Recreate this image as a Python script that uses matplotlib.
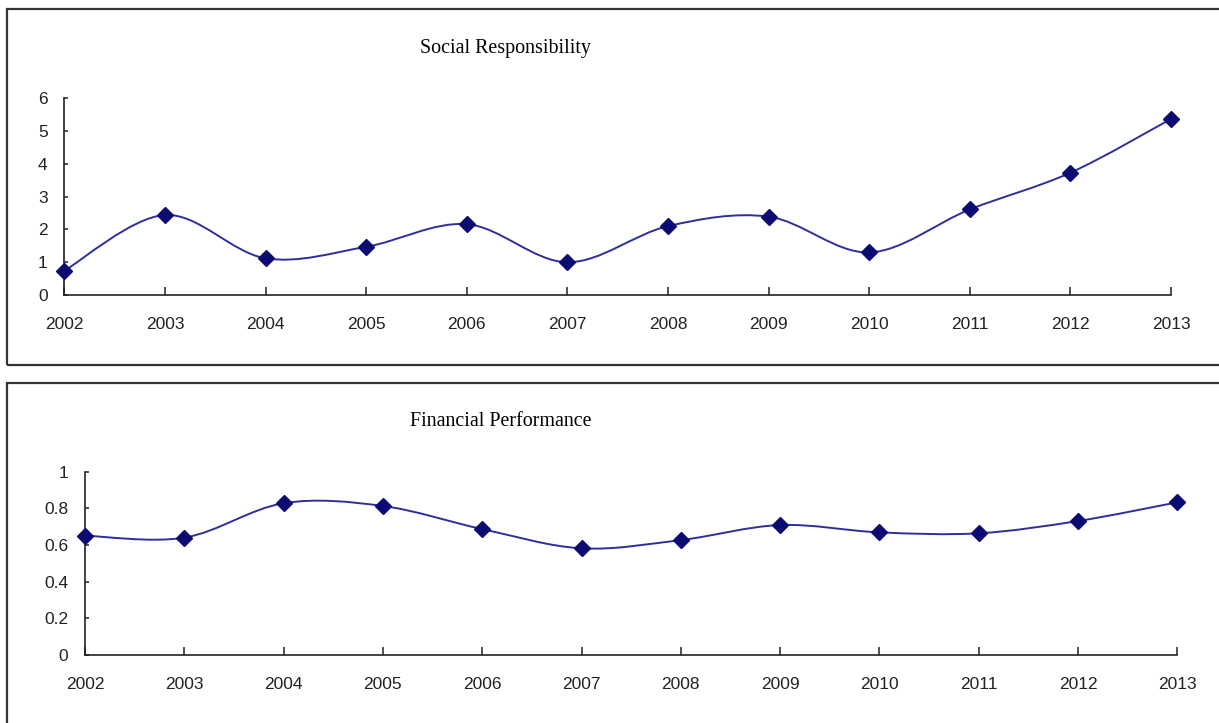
import matplotlib.pyplot as plt
from matplotlib.patches import Rectangle, PathPatch
from matplotlib.path import Path

years = [2002, 2003, 2004, 2005, 2006, 2007, 2008, 2009, 2010, 2011, 2012, 2013]
social = [0.74, 2.44, 1.12, 1.47, 2.16, 1.00, 2.10, 2.39, 1.30, 2.61, 3.73, 5.37]
financial = [0.651, 0.640, 0.828, 0.813, 0.687, 0.582, 0.627, 0.709, 0.669, 0.664, 0.731, 0.833]

social_ticks = [0, 1, 2, 3, 4, 5, 6]
social_labels = ["0", "1", "2", "3", "4", "5", "6"]
fin_ticks = [0, 0.2, 0.4, 0.6, 0.8, 1.0]
fin_labels = ["0", "0.2", "0.4", "0.6", "0.8", "1"]

LINE = "#2e2e9e"
MARK = "#0b0b72"
W, H = 1219, 723


# smooth line like the spreadsheet one: cubic bezier through every point
def smooth_path(x, y):
    n = len(x)
    verts = [(x[0], y[0])]
    codes = [Path.MOVETO]
    for i in range(n - 1):
        p = max(i - 1, 0)
        q = min(i + 2, n - 1)
        c1 = (x[i] + (x[i + 1] - x[p]) / 6, y[i] + (y[i + 1] - y[p]) / 6)
        c2 = (x[i + 1] - (x[q] - x[i]) / 6, y[i + 1] - (y[q] - y[i]) / 6)
        verts += [c1, c2, (x[i + 1], y[i + 1])]
        codes += [Path.CURVE4] * 3
    return Path(verts, codes)


def draw_panel(ax, values, ticks, labels):
    ax.add_patch(PathPatch(smooth_path(years, values), fill=False,
                           edgecolor=LINE, lw=1.4, clip_on=False))
    ax.plot(years, values, linestyle="none", marker="D", markersize=7.8,
            color=MARK, clip_on=False, zorder=3)

    ax.set_xlim(years[0], years[-1])
    ax.set_ylim(ticks[0], ticks[-1])
    ax.set_xticks(years)
    ax.set_xticklabels([str(y) for y in years])
    ax.set_yticks(ticks)
    ax.set_yticklabels(labels)

    for side in ["top", "right"]:
        ax.spines[side].set_visible(False)
    for side in ["left", "bottom"]:
        ax.spines[side].set_linewidth(1.2)
        ax.spines[side].set_color("#222222")

    ax.tick_params(axis="x", direction="in", length=5.5, width=1.1,
                   pad=15.5, labelsize=12.5, colors="#222222")
    ax.tick_params(axis="y", direction="in", length=3, width=1.1,
                   pad=12, labelsize=12.5, colors="#222222")
    for t in ax.get_xticklabels() + ax.get_yticklabels():
        t.set_fontfamily("Liberation Sans")


fig = plt.figure(figsize=(W / 100, H / 100), dpi=100)

# outer frames around each chart
fig.patches.append(Rectangle((7 / W, 1 - 365 / H), 1.2, (365 - 9) / H,
                             transform=fig.transFigure, fill=False,
                             edgecolor="#333333", lw=1.6))
fig.patches.append(Rectangle((7 / W, -0.2), 1.2, 0.2 + (1 - 383 / H),
                             transform=fig.transFigure, fill=False,
                             edgecolor="#333333", lw=1.6))

ax1 = fig.add_axes([64.3 / W, 1 - 295 / H, (1171 - 64.3) / W, (295 - 98.3) / H])
draw_panel(ax1, social, social_ticks, social_labels)

ax2 = fig.add_axes([85 / W, 1 - 655 / H, (1177.3 - 85) / W, (655 - 471.7) / H])
draw_panel(ax2, financial, fin_ticks, fin_labels)

fig.text(420 / W, 1 - 49 / H, "Social Responsibility", ha="left", va="center",
         fontsize=14.4, family="Liberation Serif")
fig.text(410 / W, 1 - 422 / H, "Financial Performance", ha="left", va="center",
         fontsize=14.4, family="Liberation Serif")

fig.savefig("out.png", dpi=100)
